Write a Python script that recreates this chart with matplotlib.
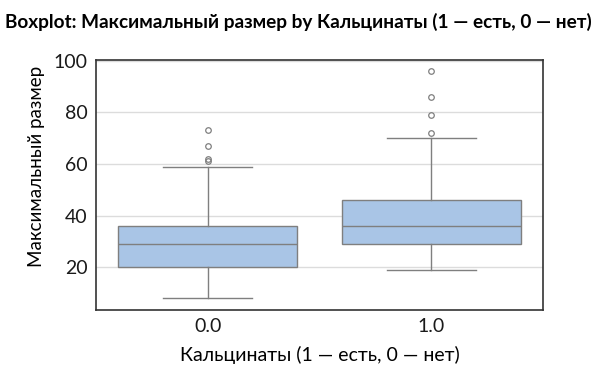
import matplotlib
matplotlib.use("Agg")
from matplotlib import pyplot as plt

plt.rcParams['font.family'] = ['Lato', 'DejaVu Sans']

groups = ["0.0", "1.0"]
q1 = [20, 29]
medians = [29, 36]
q3 = [36, 46]
whisker_low = [8, 19]
whisker_high = [59, 70]
outliers = [[61, 62, 67, 73], [72, 79, 86, 96]]

stats = []
for i in range(len(groups)):
    stats.append({"label": groups[i], "q1": q1[i], "med": medians[i], "q3": q3[i],
                  "whislo": whisker_low[i], "whishi": whisker_high[i], "fliers": outliers[i]})

fig = plt.figure(figsize=(6, 3.68), dpi=100)
ax = fig.add_axes([0.16, 0.158, 0.745, 0.679])

edge = "#7f7f7f"
ax.bxp(stats, positions=[0, 1], widths=0.8, patch_artist=True,
       boxprops=dict(facecolor="#a9c5e6", edgecolor=edge, linewidth=1),
       medianprops=dict(color=edge, linewidth=1),
       whiskerprops=dict(color=edge, linewidth=1),
       capprops=dict(color=edge, linewidth=1),
       capwidths=0.4,
       flierprops=dict(marker="o", markersize=4, markerfacecolor="none",
                       markeredgecolor=edge, markeredgewidth=0.9),
       zorder=2)

ax.set_xlim(-0.5, 1.5)
ax.set_ylim(3.6, 100.2)
ax.set_yticks([20, 40, 60, 80, 100])
ax.yaxis.grid(True, color="#dcdcdc", linewidth=1, zorder=0)
ax.set_axisbelow(True)
for s in ax.spines.values():
    s.set_color("#333333")
    s.set_linewidth(1.2)
ax.tick_params(length=0, labelsize=14, pad=6, colors="#1a1a1a")
ax.set_xticks([0, 1])
ax.set_xticklabels(groups)

ax.set_xlabel("Кальцинаты (1 — есть, 0 — нет)", fontsize=14, labelpad=8)
ax.set_ylabel("Максимальный размер", fontsize=13.5)
ax.yaxis.set_label_coords(-0.115, 0.575)
fig.text(0.497, 0.94, "Boxplot: Максимальный размер by Кальцинаты (1 — есть, 0 — нет)",
         ha="center", va="center", fontsize=13.7, fontweight="bold")

plt.savefig("out.png", dpi=100)
plt.close()
